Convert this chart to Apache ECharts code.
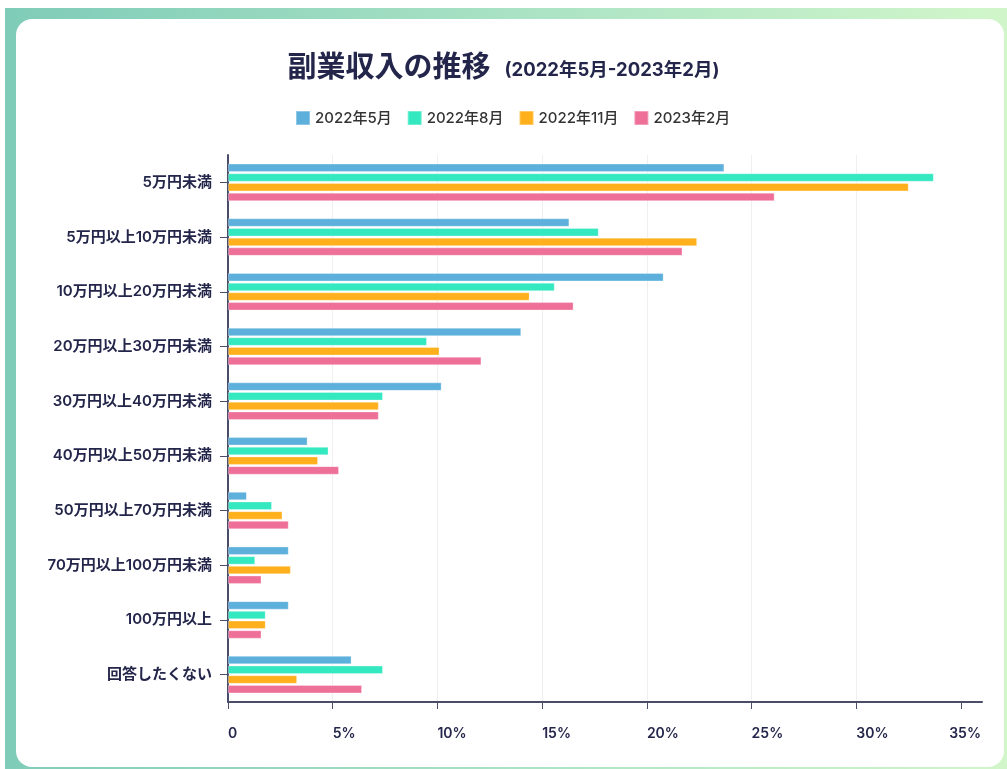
<!DOCTYPE html>
<html>
<head>
<meta charset="utf-8">
<script src="https://cdn.jsdelivr.net/npm/echarts@6/dist/echarts.min.js"></script>
<style>
  html, body { margin: 0; padding: 0; background: #fff; }
  .frame {
    position: absolute; left: 5px; top: 8px; width: 1010px; height: 770px;
    background: linear-gradient(90deg, #7fccb8 0%, #a9e2c4 50%, #d2f6ca 100%);
  }
  .card {
    position: absolute; left: 16px; top: 19px; width: 988px; height: 748px;
    background: #fff; border-radius: 16px;
  }
  #chart { position: absolute; left: 0; top: 0; width: 1007px; height: 769px; }
</style>
</head>
<body>
<div class="frame"></div>
<div class="card"></div>
<div id="chart"></div>
<script>
// 副業収入の推移 (単位: %)
var categories = ['5万円未満', '5万円以上10万円未満', '10万円以上20万円未満', '20万円以上30万円未満',
  '30万円以上40万円未満', '40万円以上50万円未満', '50万円以上70万円未満', '70万円以上100万円未満',
  '100万円以上', '回答したくない'];
var seriesNames = ['2022年5月', '2022年8月', '2022年11月', '2023年2月'];
var may2022 = [23.7, 16.3, 20.8, 14.0, 10.2, 3.8, 0.9, 2.9, 2.9, 5.9];
var aug2022 = [33.7, 17.7, 15.6, 9.5, 7.4, 4.8, 2.1, 1.3, 1.8, 7.4];
var nov2022 = [32.5, 22.4, 14.4, 10.1, 7.2, 4.3, 2.6, 3.0, 1.8, 3.3];
var feb2023 = [26.1, 21.7, 16.5, 12.1, 7.2, 5.3, 2.9, 1.6, 1.6, 6.4];
var xTicks = [0, 5, 10, 15, 20, 25, 30, 35];

var colors = ['#5db0db', '#34e8c0', '#ffb01c', '#ee7099'];
var font = "Inter, 'Noto Sans CJK JP', sans-serif";
var navy = '#23264a';

var chart = echarts.init(document.getElementById('chart'));

var values = [may2022, aug2022, nov2022, feb2023];
var series = seriesNames.map(function (name, i) {
  return {
    name: name,
    type: 'bar',
    barWidth: 8.5,
    barGap: '14%',
    itemStyle: { color: colors[i], borderColor: 'rgba(255,255,255,0.3)', borderWidth: 1 },
    data: values[i]
  };
});

chart.setOption({
  color: colors,
  textStyle: { fontFamily: font },
  title: {
    text: '{a|副業収入の推移}{b|(2022年5月-2023年2月)}',
    left: 'center',
    top: 49,
    textStyle: {
      rich: {
        a: { fontSize: 29, fontWeight: 'bold', color: navy, fontFamily: font },
        b: { fontSize: 18.5, fontWeight: 'bold', color: navy, fontFamily: font, padding: [4, 0, 0, 14] }
      }
    }
  },
  legend: {
    top: 105,
    left: 290,
    icon: 'rect',
    itemWidth: 14,
    itemHeight: 14,
    itemGap: 15,
    textStyle: { fontSize: 15, color: '#333', fontFamily: font, fontWeight: 500 },
    data: seriesNames
  },
  grid: { left: 228, right: 25, top: 155, bottom: 67, containLabel: false },
  xAxis: {
    type: 'value',
    min: 0,
    max: 36,
    interval: 5,
    axisLine: { show: true, lineStyle: { color: '#4a4d6a', width: 2 } },
    axisTick: { show: true, length: 7, customValues: xTicks, lineStyle: { color: '#4a4d6a' } },
    splitLine: { show: true, showMaxLine: false, lineStyle: { color: '#efefef' } },
    axisLabel: {
      customValues: xTicks,
      align: 'left',
      alignMaxLabel: 'center',
      margin: 25,
      fontSize: 14,
      fontWeight: 600,
      color: navy,
      formatter: function (v) {
        if (v === 0) return '0';
        if (v === 35) return '{m|35%}';
        return v + '%';
      },
      rich: { m: { fontSize: 14, fontWeight: 600, color: navy, fontFamily: font, padding: [0, 0, 0, 8] } }
    }
  },
  yAxis: {
    type: 'category',
    inverse: true,
    data: categories,
    axisLine: { show: true, lineStyle: { color: '#4a4d6a', width: 2 } },
    axisTick: { show: true, length: 8, alignWithLabel: true, lineStyle: { color: '#4a4d6a' } },
    axisLabel: { margin: 16, fontSize: 15, fontWeight: 600, color: navy }
  },
  series: series
});
</script>
</body>
</html>
